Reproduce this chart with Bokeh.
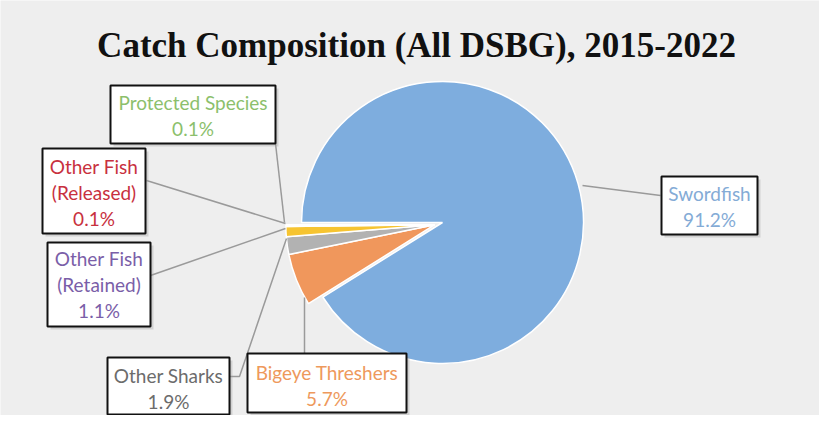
import numpy as np
from bokeh.plotting import figure
from bokeh.models import Range1d
from bokeh.core.properties import value
from bokeh.embed import file_html
from bokeh.resources import INLINE

# ---------------- data ----------------
title_text = "Catch Composition (All DSBG), 2015-2022"
categories = ["Swordfish", "Bigeye Threshers", "Other Sharks",
              "Other Fish (Retained)", "Other Fish (Released)", "Protected Species"]
percent = [91.2, 5.7, 1.9, 1.1, 0.1, 0.1]
label_lines = [["Swordfish"], ["Bigeye Threshers"], ["Other Sharks"],
               ["Other Fish", "(Retained)"], ["Other Fish", "(Released)"], ["Protected Species"]]

# ---------------- styles ----------------
slice_colors = ["#7eadde", "#f0975c", "#b2b2b2", "#f6c431", "#4d6fb0", "#7fb56a"]
text_colors = ["#84abd6", "#ee995c", "#6c6c6c", "#7a5ea8", "#c8303e", "#8cbf6c"]
BG = "#eeeeee"

# ---------------- layout (reference pixel coords) ----------------
W, H = 819, 415
def Y(yref):
    return H - yref

pie_cx, pie_cy, pie_r = 442, 222, 141
explode, small_r = 8, 149
# box: left, right, top, bottom ; first text line y
boxes = [(661, 757, 176, 234, 193),
         (247, 406, 353, 412, 372),
         (107, 229, 357, 414, 375),
         (47, 150, 242, 326, 258),
         (42, 145, 148, 233, 166),
         (110, 275, 85, 143, 102)]
leaders = [[(582, 185), (660, 195)],
           [(304, 297), (304, 353)],
           [(286, 238), (239, 376), (229, 376)],
           [(285, 228), (150, 275)],
           [(285, 223), (146, 180)],
           [(284, 222), (275, 143)]]
line_step = 26

p = figure(width=W, height=H, x_range=Range1d(0, W), y_range=Range1d(0, H),
           output_backend="svg", toolbar_location=None, min_border=0,
           background_fill_color=BG, border_fill_color=BG)
p.outline_line_color = None
p.axis.visible = False
p.grid.visible = False

# wedges
frac = np.array(percent) / np.sum(percent)
cum = np.concatenate([[0.0], np.cumsum(frac)])
start = np.pi - 2 * np.pi * cum[:-1]
end = np.pi - 2 * np.pi * cum[1:]
mid_small = (start[1] + end[-1]) / 2
for i in range(len(categories)):
    if i == 0:
        cx, cy, r = pie_cx, Y(pie_cy), pie_r
    else:
        cx = pie_cx + explode * np.cos(mid_small)
        cy = Y(pie_cy) + explode * np.sin(mid_small)
        r = small_r
    p.wedge(x=cx, y=cy, radius=r, start_angle=start[i], end_angle=end[i],
            direction="clock", fill_color=slice_colors[i], line_color="white", line_width=1.5)

# leader lines
for pts in leaders:
    p.line([q[0] for q in pts], [Y(q[1]) for q in pts], line_color="#9a9a9a", line_width=1.5)

# label boxes and texts
for i, (l, r_, t, b, ty) in enumerate(boxes):
    p.quad(left=l + 3, right=r_ + 3, top=Y(t + 3), bottom=Y(b + 3),
           fill_color="#9a9a9a", fill_alpha=0.35, line_color=None)
    p.quad(left=l, right=r_, top=Y(t), bottom=Y(b), fill_color="white",
           line_color="#111111", line_width=2)
    lines = label_lines[i] + [f"{percent[i]}%"]
    cxl = (l + r_) / 2
    p.text(x=[cxl] * len(lines), y=[Y(ty + k * line_step) for k in range(len(lines))],
           text=lines, text_align="center", text_baseline="middle",
           text_font=value("Lato"), text_font_size="19px", text_color=text_colors[i])

# title
p.text(x=[416], y=[Y(45)], text=[title_text], text_align="center", text_baseline="alphabetic",
       text_font=value("Liberation Serif"), text_font_style="bold",
       text_font_size="35px", text_color="#111111")

open("out.html", "w").write(file_html(p, INLINE))
